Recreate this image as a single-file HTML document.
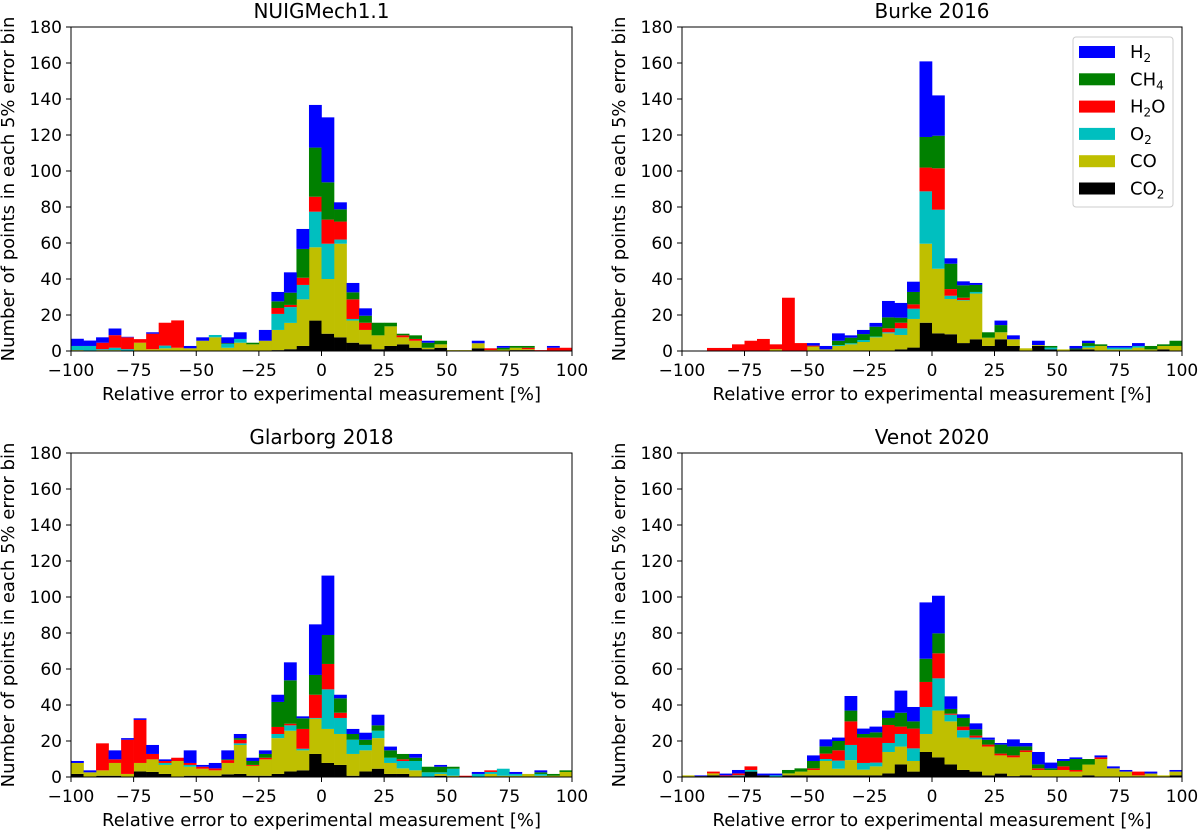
<!DOCTYPE html>
<html><head><meta charset="utf-8"><style>
body{margin:0;background:#fff;}
svg{display:block;font-family:"DejaVu Sans","Liberation Sans",sans-serif;}
</style></head><body>
<svg id="chart" width="1200" height="832" viewBox="0 0 1200 832" xmlns="http://www.w3.org/2000/svg"></svg>
<script>
const xTicks=[-100,-75,-50,-25,0,25,50,75,100];
const yTicks=[0,20,40,60,80,100,120,140,160,180];
const binStarts=[-100,-95,-90,-85,-80,-75,-70,-65,-60,-55,-50,-45,-40,-35,-30,-25,-20,-15,-10,-5,0,5,10,15,20,25,30,35,40,45,50,55,60,65,70,75,80,85,90,95];
const speciesNames=["CO2","CO","O2","H2O","CH4","H2"];

const nuig_co2=[0,0,0,0,0,0,0,0,0,0,0,0,0,0,0,0,0.5,1,2.8,16.9,9.6,7.6,4.6,3.7,1,2.8,3.7,1.8,1,1.8,0,0,1.5,0,0,0.5,0.5,0,0,0];
const nuig_co=[0.5,0.3,0.5,0.5,0,4.6,1,1.5,1.8,1.5,5.7,7.6,1.8,4.6,3.7,5.7,11.2,14.6,25.9,40.7,30.4,52,12.3,8,7.7,10.9,3.9,3.9,0.8,1.9,0.5,0.5,2.8,0.5,0.8,1.3,0.5,0,0,0];
const nuig_o2=[2.3,2.5,0.5,1.3,1,0,0,1.5,0,0,0,1.3,2.1,2.1,0,0,8.9,8.8,8,19.8,19.6,2.3,0.9,0,0,0,0,0,0,0,0,0,0,0,0,0,0,0,0,0];
const nuig_h2o=[0,0,3.6,7,6.6,2,8.6,12.7,15.2,0,0,0,0,0,0,0,3.3,1.2,4,8.3,13.4,10,10.9,4,0,0,1.1,1,0,0,0,0,0,1,0,0,0.8,0.5,1.8,1.8];
const nuig_ch4=[0,0,0,0,0,0,0,0,0,0,0,0,0.4,0,0.9,0,3.7,6.8,16,27.3,20.7,6.8,3.9,3.9,7,2,0.9,2,2.8,2,0,0,0,0,1,1,1,0,0,0];
const nuig_h2=[4,3,3,3.7,0.3,0,0.8,0,0,1.3,1.9,0,3.3,3.7,0,6,5.2,11.3,11.1,23.7,36.1,3.9,5.2,4.1,0,0,0,0,1.1,0,0,0,1.4,0,1,0,0,0,1,0];

const burke_co2=[0,0,0,0,0,0,0,0,0,0,0,0,0,0,0,0,0.2,0.9,1.9,15.7,9.8,9.3,4.4,6.5,2.8,6.5,2.8,0,2.8,0.9,0,0.9,0.9,0,0,0,0,0,0.9,0];
const burke_co=[0,0,0,0,0,0,0,1,0,0,2.5,0.9,2.8,3.7,5,7.6,9.6,8,15.9,43.9,35.9,19.6,23.6,25.4,4.6,3.9,3.7,1.5,0.5,0,0.9,0,1,2.8,0.9,0.9,1.9,0.9,1.9,2.8];
const burke_o2=[0,0,0,0,0,0,0,0,0,0,0,0,0.5,0.6,1.1,0.4,0.6,3.7,5.7,29.1,32.8,1.8,0.3,0.9,0,0,0,0,0,1,0,0,0.9,0,1,1,0.9,0,0,0];
const burke_h2o=[0,0,1.7,1.7,3.7,5.7,6.7,2.7,29.6,4.4,0.5,0,0,0,0,0,2.2,3.1,2.4,13.2,23,3.7,1.3,0,0,0,0,0,0,0,0,0,0,0,0,0,0,0,0,0];
const burke_ch4=[0,0,0,0,0,0,0,0,0,0,0,0,2.4,3.1,3.3,5.5,6.1,2.8,6.9,17,18.1,14.1,6.9,3.9,3,4,0,0,0,0.9,0,0.5,1.6,0.9,0,0,0,1.9,0.9,2.9];
const burke_h2=[0,0,0,0,0,0,0,0,0,0,1.4,1.9,4.1,1.3,2.3,2.1,9.1,8.2,5.7,42,22.4,3,2.2,1.1,0,2.5,2.2,0,2.4,0,0,1.4,1.3,0,0.9,0.9,1.6,0,0,0];

const glar_co2=[1.7,0,0.7,0.7,0,3.1,2.8,1.7,0,0.7,0.7,0.7,1.5,1.7,0.7,0.7,1.7,3.1,3.7,12.8,7.8,6.7,0.7,3.1,4.6,1.7,1.7,0,0,0.7,0,0,0,0,0,0,0,0,0,0];
const glar_co=[6.1,2.6,3,7.1,1.7,4.7,7,5,8.9,5,3.9,3,6.3,16.1,5.5,9.1,19.9,22.6,11.1,19.6,18.9,17.2,12.1,11.7,17,6.1,3.1,3.7,0,1,0.7,0,0,1.7,0.7,0.7,1.7,0.7,0.7,2.8];
const glar_o2=[0,0,0,0,0,0,0,1.1,0,1,0,0,0,0.9,0,0,2.3,3,0.9,0.4,22,8.9,7.9,3,4.1,2.9,4.1,5.2,2.6,0.9,3.9,0,1.7,1.1,3.9,1,0,1,0,0];
const glar_h2o=[0,0,15,2,19,23.9,3,1.1,1.8,1.1,1.1,1.1,1.6,2,0.5,0.9,3.9,0.9,11,12.9,14.1,2.9,0,0,0,0,0.9,0,0,0,0,0.7,0,0.9,0,0,0,0,0,0];
const glar_ch4=[0,0,0,0,0,0,0,0,0,0,0,0,0.4,0.9,2.2,2.1,13.9,24.1,5.9,11,16.1,8,3.2,2.9,3,4.1,3,1.8,3.1,3.1,1.1,0,0,0,0,0,0,0.9,1,0.9];
const glar_h2=[1.1,1.1,0,5,0.9,0.9,5,0.9,0,7,1,3,5,2.3,1.8,2,4,10,1.1,28.1,33,2,2.8,3.9,5.9,2.1,0,2.1,0,1,0,0,1.1,0,0,1.1,0,1.1,0,0];

const venot_co2=[0,0.5,0.9,0.5,0.5,3,0.9,0,0.9,0.9,0.9,0.9,0.9,0.9,0.9,0.9,2,7,3,13.9,10.9,7,3.9,3,0.9,1.9,0.5,0.9,0,0,0,0,0.9,0,0,0,0,0,0,0.9];
const venot_co=[0.9,0,1.1,0,0,0,0,0,1.1,2.1,3,8,3.7,8.5,3.2,5,11.9,9.9,5.9,10,26,23.9,18,17.9,16,10.1,10.4,13,3.9,3.9,3.9,3,6,10,4.8,3,0.9,1.9,0.9,2.1];
const venot_o2=[0,0,0,0,0.4,0.9,0,0.9,0,0,0,1.1,4.5,8.4,3.7,2.1,5,7,7,15,17.9,3.7,4.1,1,0,0,0,0,0,0,0,0,0,0,0,0,0,0,0,0];
const venot_h2o=[0,0,1,0.4,1.1,2,0,0,0,0,0.9,3,5.7,13.1,14.1,13.9,10,4.1,11,13.9,13.9,0.6,2,1.1,1.1,1,1.1,0.9,0.9,0,2,0.9,0,0.9,0,0,2.1,0,0,0];
const venot_ch4=[0,0,0,0,0,0,0,0,1.9,1.8,4.1,4,5.2,6,2,2.9,3.9,7.7,4,12.9,11.1,2.6,4.8,3.5,2.7,5,5,2.2,2.2,0.9,3,6.1,3.1,0,0,0,0,0,0,0];
const venot_h2=[0,0.4,0,1,1.9,0,1,1,0,0,3.1,3.9,1.9,8.1,3,3.2,4.1,12.3,8,31.3,20.9,7,2,3.3,1.2,0.9,3.9,1.9,6.9,3.2,1.1,0.9,0,1.1,1.1,0.9,0,1.1,0,0.9];

const colors=["#000000","#bfbf00","#00bfbf","#ff0000","#008000","#0000ff"];
const NS="http://www.w3.org/2000/svg";
const svg=document.getElementById('chart');
function mk(tag,attrs,parent){const e=document.createElementNS(NS,tag);for(const k in attrs)e.setAttribute(k,attrs[k]);(parent||svg).appendChild(e);return e;}

const panels=[
 {title:"NUIGMech1.1",key:"nuig",L:71,R:572,T:27,B:351,series:[nuig_co2,nuig_co,nuig_o2,nuig_h2o,nuig_ch4,nuig_h2],legend:false},
 {title:"Burke 2016",key:"burke",L:682,R:1182,T:27,B:351,series:[burke_co2,burke_co,burke_o2,burke_h2o,burke_ch4,burke_h2],legend:true},
 {title:"Glarborg 2018",key:"glarborg",L:71,R:572,T:453,B:777,series:[glar_co2,glar_co,glar_o2,glar_h2o,glar_ch4,glar_h2],legend:false},
 {title:"Venot 2020",key:"venot",L:682,R:1182,T:453,B:777,series:[venot_co2,venot_co,venot_o2,venot_h2o,venot_ch4,venot_h2],legend:false}
];

panels.forEach(p=>{
  const g=mk('g',{});
  
  
  const xs=v=>p.L+(v+100)/200*(p.R-p.L);
  const ys=v=>p.B-v/180*(p.B-p.T);
  const cum=new Array(binStarts.length).fill(0);
  p.series.forEach((arr,si)=>{
    const sg=mk('g',{},g);
    
    
    arr.forEach((v,i)=>{
      if(v<=0)return;
      const x0=xs(binStarts[i]),x1=xs(binStarts[i]+5);
      const y0=ys(cum[i]),y1=ys(cum[i]+v);
      const r=mk('rect',{x:x0,y:y1,width:x1-x0+0.3,height:y0-y1,fill:colors[si]},sg);
      
      
      cum[i]+=v;
    });
  });
  const frame=mk('rect',{x:p.L,y:p.T,width:p.R-p.L,height:p.B-p.T,fill:'none',stroke:'#000','stroke-width':1},g);
  
  
  xTicks.forEach(t=>{
    const x=xs(t);
    mk('line',{x1:x,x2:x,y1:p.B,y2:p.B+5,stroke:'#000'},g);
    const tx=mk('text',{x:x,y:p.B+25,'font-size':17,'text-anchor':'middle',fill:'#000'},g);
    tx.textContent=(t<0?'\u2212'+(-t):String(t));
    
    
  });
  yTicks.forEach(t=>{
    const y=ys(t);
    mk('line',{x1:p.L-5,x2:p.L,y1:y,y2:y,stroke:'#000'},g);
    const tx=mk('text',{x:p.L-9,y:y+6,'font-size':17,'text-anchor':'end',fill:'#000'},g);
    tx.textContent=String(t);
    
    
  });
  const tt=mk('text',{x:(p.L+p.R)/2,y:p.T-9,'font-size':20,'text-anchor':'middle',fill:'#000'},g);
  tt.textContent=p.title;
  
  
  const xl=mk('text',{x:(p.L+p.R)/2,y:p.B+49,'font-size':18,'text-anchor':'middle',fill:'#000'},g);
  xl.textContent='Relative error to experimental measurement [%]';
  
  
  const cy=(p.T+p.B)/2, cx=p.L-57;
  const yl=mk('text',{x:cx,y:cy,'font-size':18,'text-anchor':'middle',fill:'#000',transform:'rotate(-90 '+cx+' '+cy+')'},g);
  yl.textContent='Number of points in each 5% error bin';
  
  
  if(p.legend){
    const lg=mk('g',{},g);
    
    
    mk('rect',{x:1073,y:37,width:100,height:170,rx:3,fill:'#fff','fill-opacity':0.8,stroke:'#ccc'},lg);
    const labels=[["H","2",""],["CH","4",""],["H","2","O"],["O","2",""],["CO","",""],["CO","2",""]];
    const order=[5,4,3,2,1,0];
    order.forEach((si,k)=>{
      const y=52+k*27.3;
      const sw=mk('rect',{x:1079,y:y-6,width:36,height:12,fill:colors[si]},lg);
      
      
      const t=mk('text',{x:1130,y:y+6,'font-size':18,fill:'#000'},lg);
      
      
      const L=labels[k];
      const a=document.createElementNS(NS,'tspan');a.textContent=L[0];t.appendChild(a);
      if(L[1]){const b=document.createElementNS(NS,'tspan');b.setAttribute('font-size','12');b.setAttribute('dy','4');b.textContent=L[1];t.appendChild(b);}
      if(L[2]){const c=document.createElementNS(NS,'tspan');c.setAttribute('dy','-4');c.textContent=L[2];t.appendChild(c);}
    });
  }
});
</script>
</body></html>
